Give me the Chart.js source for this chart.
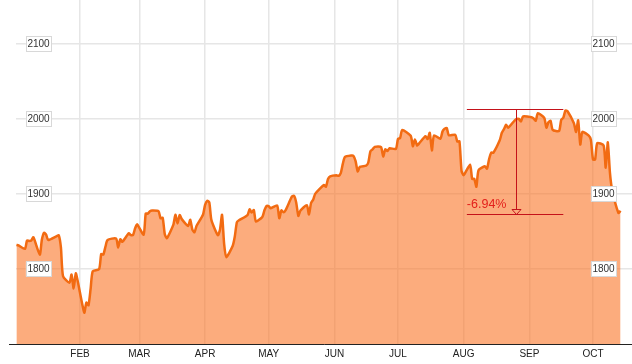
<!DOCTYPE html>
<html>
<head>
<meta charset="utf-8">
<script src="https://cdn.jsdelivr.net/npm/chart.js@4.4.1/dist/chart.umd.min.js"></script>
<style>
  html, body { margin: 0; padding: 0; background: #fff; }
  canvas { display: block; }
</style>
</head>
<body>
<canvas id="chart" width="632" height="364"></canvas>
<script>
// S&P 500 daily closes, Jan - mid Oct 2014
const dates = [
  '01-02','01-03','01-06','01-07','01-08','01-09','01-10','01-13','01-14','01-15','01-16','01-17','01-21','01-22','01-23','01-24','01-27','01-28','01-29','01-30','01-31',
  '02-03','02-04','02-05','02-06','02-07','02-10','02-11','02-12','02-13','02-14','02-18','02-19','02-20','02-21','02-24','02-25','02-26','02-27','02-28',
  '03-03','03-04','03-05','03-06','03-07','03-10','03-11','03-12','03-13','03-14','03-17','03-18','03-19','03-20','03-21','03-24','03-25','03-26','03-27','03-28','03-31',
  '04-01','04-02','04-03','04-04','04-07','04-08','04-09','04-10','04-11','04-14','04-15','04-16','04-17','04-21','04-22','04-23','04-24','04-25','04-28','04-29','04-30',
  '05-01','05-02','05-05','05-06','05-07','05-08','05-09','05-12','05-13','05-14','05-15','05-16','05-19','05-20','05-21','05-22','05-23','05-27','05-28','05-29','05-30',
  '06-02','06-03','06-04','06-05','06-06','06-09','06-10','06-11','06-12','06-13','06-16','06-17','06-18','06-19','06-20','06-23','06-24','06-25','06-26','06-27','06-30',
  '07-01','07-02','07-03','07-07','07-08','07-09','07-10','07-11','07-14','07-15','07-16','07-17','07-18','07-21','07-22','07-23','07-24','07-25','07-28','07-29','07-30','07-31',
  '08-01','08-04','08-05','08-06','08-07','08-08','08-11','08-12','08-13','08-14','08-15','08-18','08-19','08-20','08-21','08-22','08-25','08-26','08-27','08-28','08-29',
  '09-02','09-03','09-04','09-05','09-08','09-09','09-10','09-11','09-12','09-15','09-16','09-17','09-18','09-19','09-22','09-23','09-24','09-25','09-26','09-29','09-30',
  '10-01','10-02','10-03','10-06','10-07','10-08','10-09','10-10','10-13','10-14'
];
const closes = [
  1832.0,1831.4,1826.8,1837.9,1837.5,1838.1,1842.4,1819.2,1838.9,1848.4,1845.9,1838.7,1843.8,1844.9,1828.5,1790.3,1781.6,1792.5,1774.2,1794.2,1782.6,
  1741.9,1755.2,1751.6,1773.4,1797.0,1799.8,1819.8,1819.3,1829.8,1838.6,1840.8,1828.8,1839.8,1836.3,1847.6,1845.1,1845.2,1854.3,1859.5,
  1845.7,1873.9,1873.8,1877.0,1878.0,1877.2,1867.6,1868.2,1846.3,1841.1,1858.8,1872.3,1860.8,1872.0,1866.5,1857.4,1865.6,1852.6,1849.0,1857.6,1872.3,
  1885.5,1890.9,1888.8,1865.1,1845.0,1852.0,1872.2,1833.1,1815.7,1830.6,1843.0,1862.3,1864.9,1871.9,1879.6,1875.4,1878.6,1863.4,1869.4,1878.3,1884.0,
  1883.7,1881.1,1884.7,1867.7,1878.2,1875.6,1878.5,1896.7,1897.5,1888.5,1870.9,1877.9,1885.1,1872.8,1888.0,1892.5,1900.5,1911.9,1909.8,1920.0,1923.6,
  1925.0,1924.2,1927.9,1940.5,1949.4,1951.3,1950.8,1943.9,1930.1,1936.2,1937.8,1942.0,1957.0,1959.5,1962.9,1962.6,1950.0,1959.5,1957.2,1961.0,1960.2,
  1973.3,1974.6,1985.4,1977.7,1963.7,1972.8,1964.7,1967.6,1977.1,1973.3,1981.6,1958.1,1978.2,1973.6,1983.5,1987.0,1988.0,1978.3,1978.9,1970.0,1970.1,1930.7,
  1925.2,1939.0,1920.2,1920.2,1909.6,1931.6,1936.9,1933.8,1946.7,1955.2,1955.1,1971.7,1981.6,1986.5,1992.4,1988.4,1997.9,2000.0,2000.1,1996.7,2003.4,
  2002.3,2000.7,1997.7,2007.7,2001.5,1988.4,1995.7,1997.5,1985.5,1984.1,1999.0,2001.6,2011.4,2010.4,1994.3,1982.8,1998.3,1966.0,1982.9,1977.8,1972.3,
  1946.2,1946.2,1967.9,1964.8,1935.1,1968.9,1928.2,1906.1,1874.7,1877.7
];

// axis ticks (x in day-of-year, first of each month)
const monthLabels = ['FEB','MAR','APR','MAY','JUN','JUL','AUG','SEP','OCT'];
const monthDays = [31, 59, 90, 120, 151, 181, 212, 243, 273];
const yTicks = [1800, 1900, 2000, 2100];

// drawdown annotation
const dropFrom = 213.5;   // day of year
const dropTo = 259;
const dropMid = 236.5;
const dropHigh = 2014;
const dropLow = 1874;
const dropLabel = '-6.94%';

const dayOfYear = md => {
  const [m, d] = md.split('-').map(Number);
  return (Date.UTC(2014, m - 1, d) - Date.UTC(2014, 0, 1)) / 86400000;
};
const points = dates.map((d, i) => ({ x: dayOfYear(d), y: closes[i] }));

const FONT = '"Liberation Sans", Arial, sans-serif';

// boxed y labels on both sides + the drawdown marker
const overlayPlugin = {
  id: 'overlay',
  afterDatasetsDraw(chart) {
    const { ctx, chartArea, scales: { x, y } } = chart;
    ctx.save();

    // axis line runs a little past the plot on the left
    ctx.strokeStyle = '#222';
    ctx.lineWidth = 1;
    ctx.beginPath();
    ctx.moveTo(9, Math.round(chartArea.bottom) + 0.5);
    ctx.lineTo(chartArea.left + 1, Math.round(chartArea.bottom) + 0.5);
    ctx.stroke();

    // y labels
    ctx.font = '10px ' + FONT;
    ctx.textAlign = 'center';
    ctx.textBaseline = 'middle';
    yTicks.forEach(v => {
      const py = Math.round(y.getPixelForValue(v));
      [38.5, 603.5].forEach(cx => {
        const w = ctx.measureText(String(v)).width + 3;
        ctx.fillStyle = '#fff';
        ctx.fillRect(cx - w / 2, py - 7.5, w, 15);
        ctx.strokeStyle = '#d8d8d8';
        ctx.lineWidth = 1;
        ctx.strokeRect(Math.round(cx - w / 2) + 0.5, py - 7.5, Math.round(w), 15);
        ctx.fillStyle = '#333';
        ctx.fillText(String(v), cx, py + 0.5);
      });
    });

    // drawdown lines
    const x1 = x.getPixelForValue(dropFrom);
    const x2 = x.getPixelForValue(dropTo);
    const xm = Math.round(x.getPixelForValue(dropMid)) + 0.5;
    const yH = Math.round(y.getPixelForValue(dropHigh)) + 0.5;
    const yL = Math.round(y.getPixelForValue(dropLow)) + 0.5;
    ctx.strokeStyle = '#c4121a';
    ctx.lineWidth = 1;
    ctx.beginPath();
    ctx.moveTo(x1, yH); ctx.lineTo(x2, yH);
    ctx.moveTo(x1, yL); ctx.lineTo(x2, yL);
    ctx.moveTo(xm, yH); ctx.lineTo(xm, yL - 5);
    ctx.stroke();
    // arrow head (outline triangle)
    ctx.beginPath();
    ctx.moveTo(xm - 4.5, yL - 5);
    ctx.lineTo(xm + 4.5, yL - 5);
    ctx.lineTo(xm, yL);
    ctx.closePath();
    ctx.stroke();

    ctx.fillStyle = '#e3211c';
    ctx.font = '12.5px ' + FONT;
    ctx.textAlign = 'left';
    ctx.textBaseline = 'middle';
    ctx.fillText(dropLabel, x1, yL - 10);

    ctx.restore();
  }
};

const gridColor = '#e6e6e6';

new Chart(document.getElementById('chart'), {
  type: 'line',
  data: {
    datasets: [{
      data: points,
      borderColor: '#f26b12',
      borderWidth: 2.5,
      backgroundColor: 'rgba(250, 117, 38, 0.6)',
      fill: 'start',
      pointRadius: 0,
      tension: 0.2
    }]
  },
  options: {
    responsive: false,
    animation: false,
    layout: { padding: { left: 16, right: 0, top: 0, bottom: 0 } },
    plugins: {
      legend: { display: false },
      tooltip: { enabled: false }
    },
    scales: {
      x: {
        type: 'linear',
        min: 0.8,
        max: 291.4,
        afterBuildTicks: s => { s.ticks = monthDays.map(v => ({ value: v })); },
        ticks: {
          callback: (v, i) => monthLabels[i],
          font: { family: FONT, size: 10 },
          color: '#222',
          padding: 4,
          maxRotation: 0,
          autoSkip: false
        },
        grid: { color: gridColor, lineWidth: 1.5, drawTicks: false },
        border: { display: true, color: '#222', width: 1 }
      },
      y: {
        min: 1700,
        max: 2158.7,
        afterBuildTicks: s => { s.ticks = yTicks.map(v => ({ value: v })); },
        ticks: { display: false },
        grid: { color: gridColor, lineWidth: 1.5, drawTicks: false },
        border: { display: false }
      }
    }
  },
  plugins: [overlayPlugin]
});
</script>
</body>
</html>
